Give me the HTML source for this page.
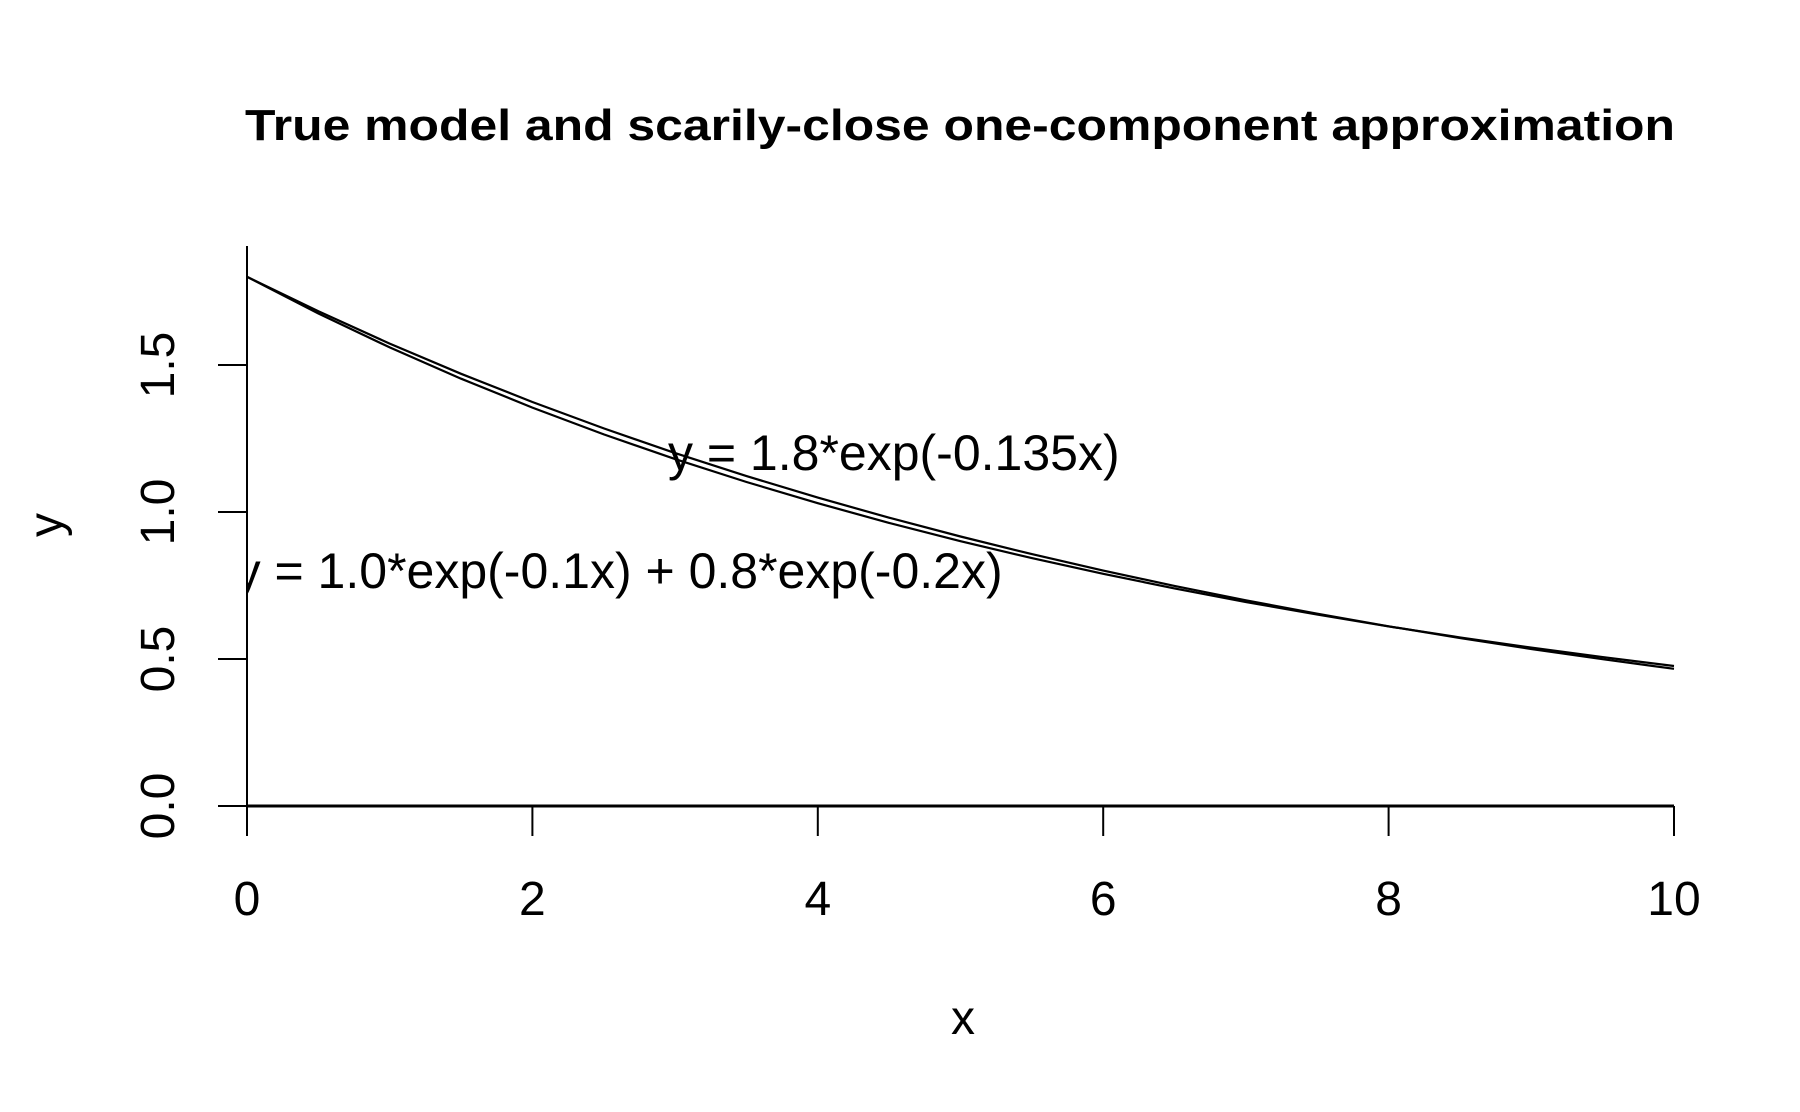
<!DOCTYPE html>
<html><head><meta charset="utf-8"><style>
html,body{margin:0;padding:0;background:#fff;}
svg{display:block;font-family:"Liberation Sans",Arial,sans-serif;}
</style></head><body>
<svg id="chart" width="1800" height="1112" viewBox="0 0 1800 1112">
<defs><clipPath id="plotclip"><rect x="247" y="200" width="1460" height="612"/></clipPath></defs>
<text x="960" y="140" text-anchor="middle" font-size="44" font-weight="bold" textLength="1430" lengthAdjust="spacingAndGlyphs">True model and scarily-close one-component approximation</text>
<g id="axes"></g>
<g id="series" clip-path="url(#plotclip)"></g>
<text x="963" y="1034" text-anchor="middle" font-size="48">x</text>
<text transform="translate(62,525) rotate(-90)" text-anchor="middle" font-size="48">y</text>
</svg>
<script>
const xs = [0,0.5,1,1.5,2,2.5,3,3.5,4,4.5,5,5.5,6,6.5,7,7.5,8,8.5,9,9.5,10];
const approxY = [1.8,1.6825,1.5727,1.4700,1.3741,1.2844,1.2005,1.1222,1.0489,0.9805,0.9165,0.8567,0.8008,0.7485,0.6996,0.6540,0.6113,0.5714,0.5341,0.4992,0.4666];
const trueY = [1.8,1.6751,1.5598,1.4534,1.3550,1.2640,1.1799,1.1020,1.0298,0.9629,0.9008,0.8433,0.7898,0.7401,0.6939,0.6509,0.6109,0.5736,0.5388,0.5064,0.4762];
const xTicks = [0,2,4,6,8,10];
const xTickLabels = ["0","2","4","6","8","10"];
const yTicks = [0,0.5,1,1.5];
const yTickLabels = ["0.0","0.5","1.0","1.5"];
const labelApprox = "y = 1.8*exp(-0.135x)";
const labelTrue = "y = 1.0*exp(-0.1x) + 0.8*exp(-0.2x)";

const NS = "http://www.w3.org/2000/svg";
const X0 = 247, X1 = 1674, Y0 = 806, Y15 = 365;
const sx = v => X0 + v * (X1 - X0) / 10;
const sy = v => Y0 - v * (Y0 - Y15) / 1.5;
function mk(tag, attrs, parent){const e=document.createElementNS(NS,tag);for(const k in attrs)e.setAttribute(k,attrs[k]);parent.appendChild(e);return e;}
const axes = document.getElementById('axes');
const series = document.getElementById('series');

let l = mk('line',{x1:X0,y1:Y0,x2:X1,y2:Y0,stroke:'#000','stroke-width':3},axes);


l = mk('line',{x1:X0,y1:246,x2:X0,y2:Y0,stroke:'#000','stroke-width':2},axes);



xTicks.forEach((t,i)=>{
  const tk = mk('line',{x1:sx(t),y1:Y0,x2:sx(t),y2:Y0+30,stroke:'#000','stroke-width':2},axes);
  
  
  const tx = mk('text',{x:sx(t),y:915,'text-anchor':'middle','font-size':48},axes);
  tx.textContent = xTickLabels[i];
  
  
});
yTicks.forEach((t,i)=>{
  const tk = mk('line',{x1:218,y1:sy(t),x2:X0,y2:sy(t),stroke:'#000','stroke-width':2},axes);
  
  
  const tx = mk('text',{transform:`translate(174,${sy(t)}) rotate(-90)`,'text-anchor':'middle','font-size':48},axes);
  tx.textContent = yTickLabels[i];
  
  
});

function path(ys){return xs.map((x,i)=>(i?'L':'M')+sx(x).toFixed(1)+','+sy(ys[i]).toFixed(1)).join(' ');}
let p = mk('path',{d:path(trueY),fill:'none',stroke:'#000','stroke-width':2.2},series);


p = mk('path',{d:path(approxY),fill:'none',stroke:'#000','stroke-width':2.2},series);



let a = mk('text',{x:sx(2.95),y:sy(1.2)+17,'font-size':50},series);
a.textContent = labelApprox;


a = mk('text',{x:sx(-0.08),y:sy(0.8)+17,'font-size':50},series);
a.textContent = labelTrue;


</script>
</body></html>
